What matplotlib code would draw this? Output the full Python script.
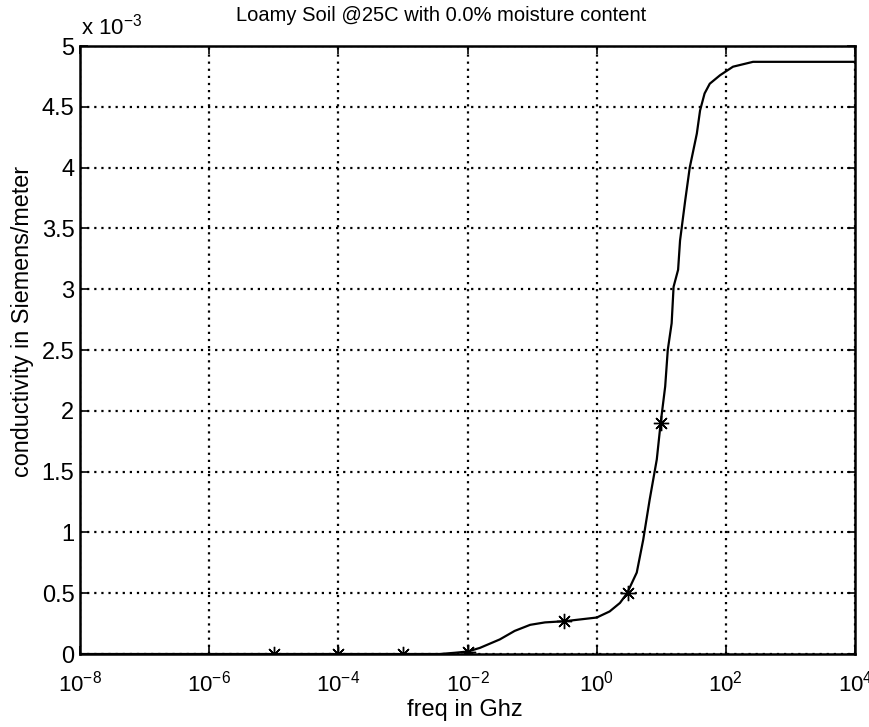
import matplotlib
matplotlib.use("Agg")
import matplotlib.pyplot as plt
import numpy as np
from matplotlib.ticker import FuncFormatter, FixedLocator

plt.rcParams['font.family'] = ['Liberation Sans', 'DejaVu Sans']
plt.rcParams['mathtext.fontset'] = 'custom'
plt.rcParams['mathtext.rm'] = 'Liberation Sans'

# conductivity curve (freq in GHz, sigma in S/m)
log_freq = [-8.0, -2.43, -2.2, -2.0, -1.81, -1.5, -1.27, -1.03, -0.80, -0.49,
            0.0, 0.2, 0.36, 0.47, 0.62, 0.72, 0.82, 0.93, 0.99, 1.06, 1.10,
            1.16, 1.19, 1.26, 1.29, 1.37, 1.44, 1.55, 1.60, 1.67, 1.75, 1.91,
            2.11, 2.42, 4.0]
sigma_mS = [0.0, 0.0, 0.01, 0.02, 0.05, 0.12, 0.19, 0.24, 0.26, 0.27,
            0.30, 0.35, 0.42, 0.50, 0.67, 0.94, 1.27, 1.60, 1.90, 2.20, 2.50,
            2.72, 3.02, 3.16, 3.40, 3.73, 4.00, 4.28, 4.47, 4.61, 4.69, 4.76,
            4.83, 4.87, 4.87]

# sample points marked with asterisks
mark_freq = [1e-5, 1e-4, 1e-3, 1e-2, 0.316, 3.0, 10.0]
mark_sigma_mS = [0.0, 0.0, 0.0, 0.02, 0.27, 0.50, 1.90]

freq = 10.0 ** np.array(log_freq)
sigma = np.array(sigma_mS) * 1e-3
mfreq = np.array(mark_freq)
msigma = np.array(mark_sigma_mS) * 1e-3

fig = plt.figure(figsize=(8.69, 7.27), dpi=100)
ax = fig.add_axes([0.092, 0.1004, 0.892, 0.8363])

ax.plot(freq, sigma, color='black', lw=1.6)
ax.plot(mfreq, msigma, linestyle='none', marker=(8, 2, 0), markersize=11,
        markeredgewidth=1.0, color='black')

ax.set_xscale('log')
ax.set_xlim(1e-8, 1e4)
ax.set_ylim(0, 5e-3)

ax.xaxis.set_major_locator(FixedLocator([10.0 ** e for e in range(-8, 5, 2)]))
ax.xaxis.set_minor_locator(FixedLocator([]))
ax.xaxis.set_major_formatter(FuncFormatter(
    lambda v, p: r'$\mathregular{10^{%d}}$' % round(np.log10(v))))
ax.set_yticks(np.arange(0, 5.01, 0.5) * 1e-3)
ax.yaxis.set_major_formatter(FuncFormatter(lambda v, p: '%g' % round(v * 1e3, 2)))

ax.tick_params(axis='both', direction='in', length=6, width=1.2,
               top=True, right=True)
ax.tick_params(axis='y', labelsize=17, pad=4)
ax.tick_params(axis='x', labelsize=16, pad=12)
for s in ax.spines.values():
    s.set_linewidth(1.8)

ax.grid(True, color='black', linestyle=(0, (1, 2.2)), linewidth=1.6)

fig.text(0.5075, 0.979, 'Loamy Soil @25C with 0.0% moisture content',
         ha='center', va='center', fontsize=14.5)
fig.text(0.535, 0.024, 'freq in Ghz', ha='center', va='center', fontsize=17)
fig.text(0.026, 0.558, 'conductivity in Siemens/meter', ha='center', va='center',
         rotation=90, fontsize=16.8)
fig.text(0.093, 0.945, r'x $\mathregular{10^{-3}}$', ha='left', va='bottom',
         fontsize=16)

fig.savefig('out.png', dpi=100)
